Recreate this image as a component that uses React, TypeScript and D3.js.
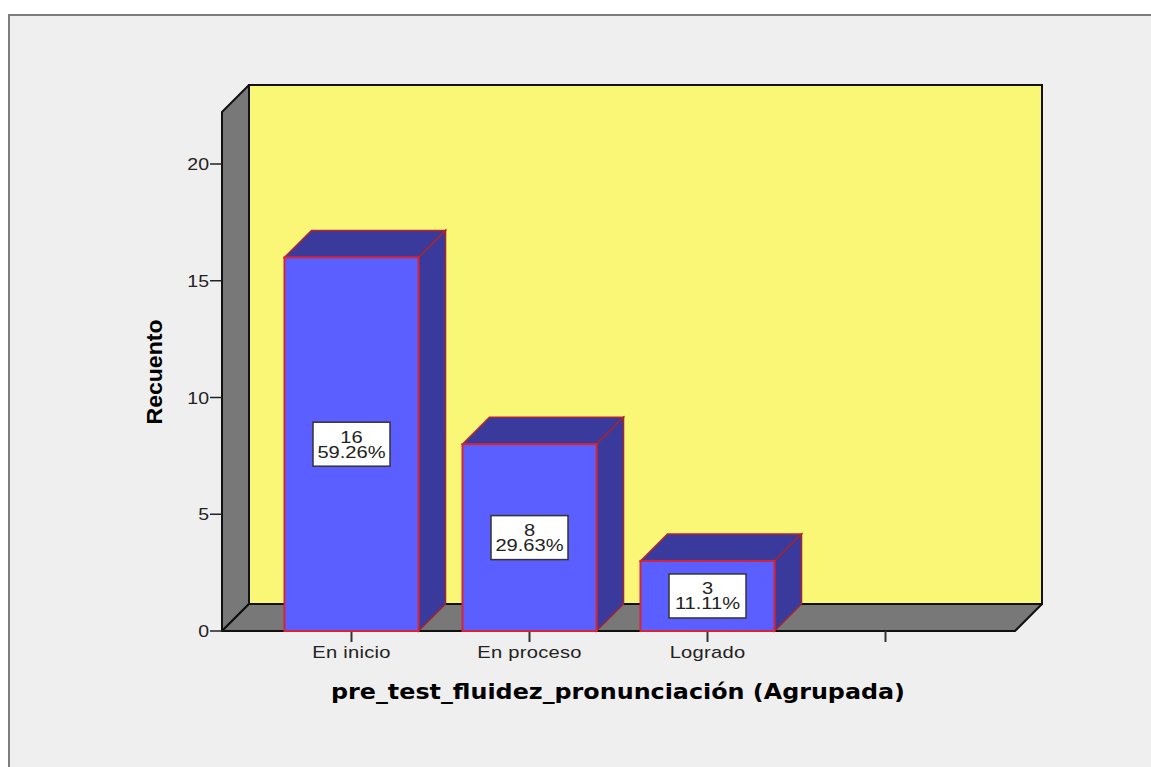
import React from "react";
import * as d3 from "d3";

const categories = ["En inicio", "En proceso", "Logrado", " "];
const counts = [16, 8, 3];
const percents = ["59.26%", "29.63%", "11.11%"];
const yTicks = [0, 5, 10, 15, 20];

const W = 1151, H = 767;
const DEPTH = 27;
const FONT = "'DejaVu Sans', Verdana, sans-serif";
const ARIAL = "'Liberation Sans', Arial, sans-serif";
const tickLabelScale = 1.26;

export default function App() {
  const y = d3.scaleLinear().domain([0, 20]).range([631, 164]);
  const x = d3.scaleBand().domain(categories).range([262.5, 974.5]).paddingInner(0.247).paddingOuter(0.1235);
  const floorL = 222, floorR = 1015, top = y(20) - 52;
  const poly = (pts: number[][]) => pts.map((p) => p.join(",")).join(" ");
  const base = y(0);
  return (
    <svg width={W} height={H} style={{ position: "absolute", left: 0, top: 0, display: "block" }}>
      <rect width={W} height={H} fill="#fff" />
      <rect x={9} y={15} width={W} height={H} fill="#efefef" stroke="#7d7d7d" strokeWidth={2} />

      {/* back wall */}
      <rect x={floorL + DEPTH} y={top - DEPTH} width={floorR - floorL} height={base - top} fill="#fbf776" stroke="#111" strokeWidth={2} />
      {/* left wall */}
      <polygon points={poly([[floorL, top], [floorL + DEPTH, top - DEPTH], [floorL + DEPTH, base - DEPTH], [floorL, base]])} fill="#787878" stroke="#111" strokeWidth={2} strokeLinejoin="round" />
      {/* floor */}
      <polygon points={poly([[floorL, base], [floorL + DEPTH, base - DEPTH], [floorR + DEPTH, base - DEPTH], [floorR, base]])} fill="#787878" stroke="#111" strokeWidth={2} strokeLinejoin="round" />

      {/* y axis */}
      {yTicks.map((t) => (
        <g key={t}>
          <line x1={floorL - 12} x2={floorL} y1={y(t)} y2={y(t)} stroke="#222" strokeWidth={1.5} />
          <text transform={`translate(${floorL - 13},${y(t) + 6}) scale(1.22,1)`} textAnchor="end" fontFamily={ARIAL} fontSize={16} fill="#222">{t}</text>
        </g>
      ))}
      <text x={155} y={372} transform="rotate(-90 155 372) translate(0 7)" textAnchor="middle" textLength={105} lengthAdjust="spacingAndGlyphs" fontFamily={ARIAL} fontWeight="bold" fontSize={22} fill="#000">Recuento</text>

      {/* x ticks */}
      {categories.map((c) => {
        const cx = x(c)! + x.bandwidth() / 2;
        return (
          <g key={c}>
            <line x1={cx} x2={cx} y1={base} y2={base + 11} stroke="#333" strokeWidth={2} />
            <text transform={`translate(${cx},658) scale(${tickLabelScale},1)`} textAnchor="middle" fontFamily={ARIAL} fontSize={16} letterSpacing={0.2} fill="#222">{c}</text>
          </g>
        );
      })}
      <text x={618} y={699} textAnchor="middle" textLength={574} lengthAdjust="spacingAndGlyphs" fontFamily={FONT} fontWeight="bold" fontSize={21} fill="#000">pre_test_fluidez_pronunciación (Agrupada)</text>

      {/* bars */}
      {counts.map((v, i) => {
        const x0 = x(categories[i])!, x1 = x0 + x.bandwidth(), yt = y(v);
        const cx = (x0 + x1) / 2, cy = (yt + base) / 2;
        return (
          <g key={i}>
            <polygon points={poly([[x0, yt], [x0 + DEPTH, yt - DEPTH], [x1 + DEPTH, yt - DEPTH], [x1, yt]])} fill="#3a3a9c" stroke="#b5252f" strokeWidth={1.5} />
            <polygon points={poly([[x1, yt], [x1 + DEPTH, yt - DEPTH], [x1 + DEPTH, base - DEPTH], [x1, base]])} fill="#3a3a9c" stroke="#a3262f" strokeWidth={1.5} />
            <rect x={x0} y={yt} width={x1 - x0} height={base - yt} fill="#5c5fff" stroke="#d3263a" strokeWidth={2} />
            <rect x={cx - 38.5} y={cy - 22} width={77} height={44} fill="#fff" stroke="#333" strokeWidth={1.5} />
            <text transform={`translate(${cx},${cy - 1.5}) scale(1.22,1)`} textAnchor="middle" fontFamily={ARIAL} fontSize={16.5} fill="#222">{v}</text>
            <text transform={`translate(${cx},${cy + 13.5}) scale(1.22,1)`} textAnchor="middle" fontFamily={ARIAL} fontSize={16.5} fill="#222">{percents[i]}</text>
          </g>
        );
      })}
    </svg>
  );
}
